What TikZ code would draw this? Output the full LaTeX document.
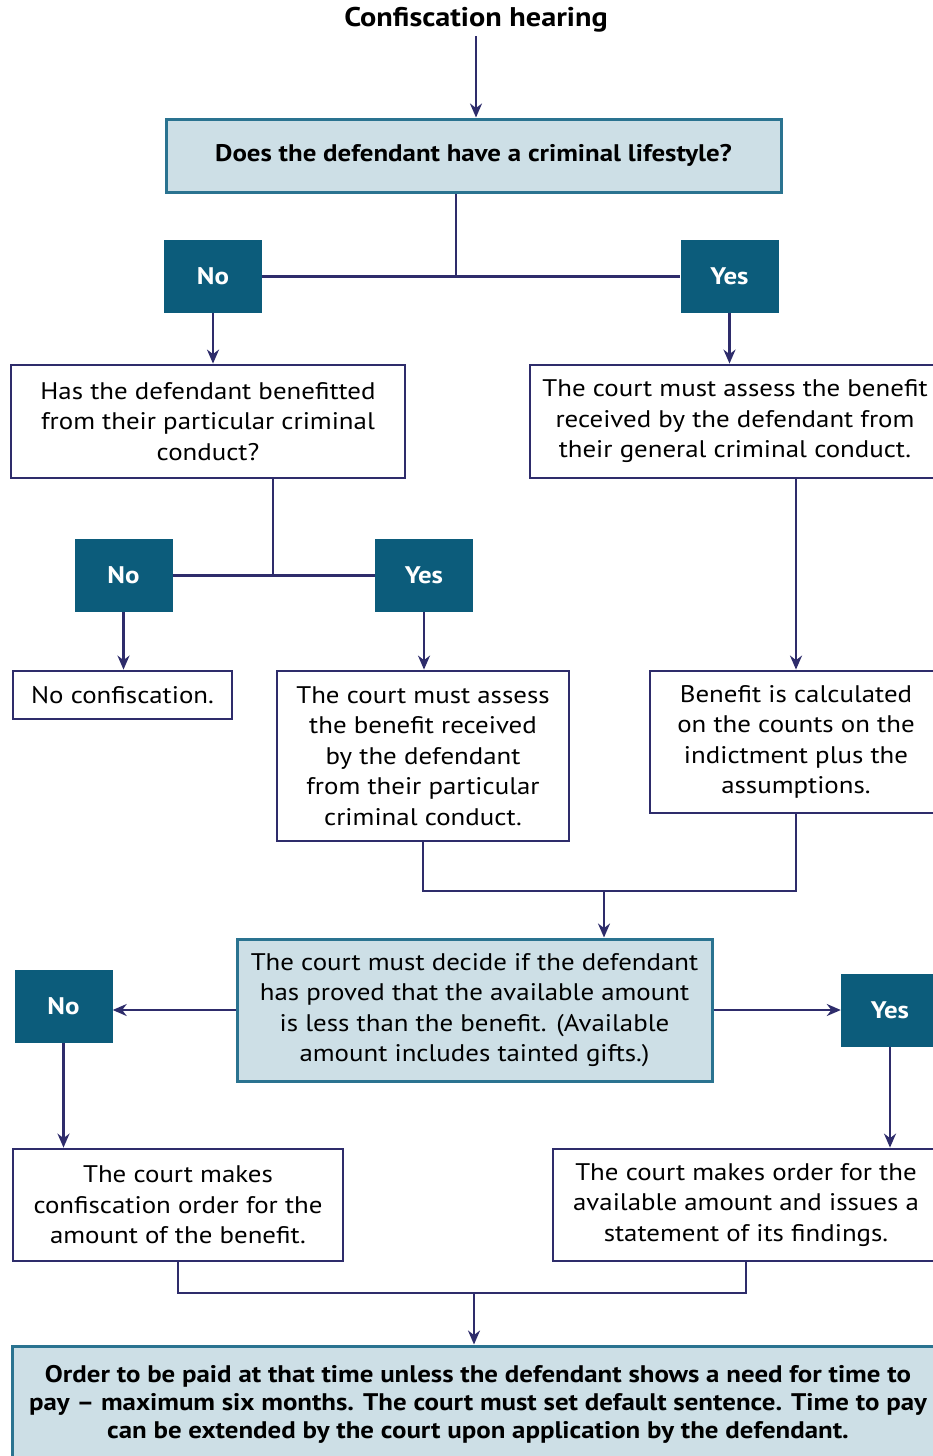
\documentclass[tikz,border=0pt]{standalone}
\usepackage{fontspec}
\setmainfont{PT Sans}[FakeStretch=1.12]
\usetikzlibrary{arrows.meta}
\definecolor{lightbox}{HTML}{CDDFE6}
\definecolor{tealline}{HTML}{2A7390}
\definecolor{darkbox}{HTML}{0C5C7B}
\definecolor{navy}{HTML}{2E2C6B}
\begin{document}
\begin{tikzpicture}[x=1pt,y=-1pt,
  conn/.style={draw=navy,line width=2.8pt},
  arr/.style={conn,-{Stealth[length=14pt,width=12pt]}},
  qbox/.style={draw=tealline,fill=lightbox,line width=3pt,align=center,inner sep=0pt,font=\fontsize{24}{28}\selectfont\bfseries},
  tbox/.style={draw=navy,fill=white,line width=2.8pt,align=center,inner sep=0pt,font=\fontsize{24}{30.5}\selectfont},
  ans/.style={fill=darkbox,text=white,minimum width=98pt,minimum height=73pt,inner sep=0pt,font=\fontsize{24}{26}\selectfont\bfseries}]
\useasboundingbox (0,0) rectangle (933,1456);
\clip (0,0) rectangle (933,1456);

% top
\node (title) at (476,20) {\fontsize{27}{30}\selectfont\bfseries Confiscation hearing};
\node[qbox,minimum width=615pt,minimum height=73pt] (q1) at (473.5,155.5) {Does the defendant have a criminal lifestyle?};
\node[ans] (no1) at (213,276.5) {No};
\node[ans] (yes1) at (729.5,276.5) {Yes};

% second level
\node[tbox,minimum width=394pt,minimum height=113pt] (b2) at (208,421.5) {Has the defendant benefitted\\from their particular criminal\\conduct?};
\node[tbox,minimum width=410pt,minimum height=113pt] (b3) at (735,421.5) {The court must assess the benefit\\received by the defendant from\\their general criminal conduct.};
\node[ans] (no2) at (123.5,575.5) {No};
\node[ans] (yes2) at (424,575.5) {Yes};

% third level
\node[tbox,minimum width=219pt,minimum height=48pt] (b4) at (122.5,695) {No confiscation.};
\node[tbox,minimum width=292pt,minimum height=170pt] (b5) at (423,756) {The court must assess\\the benefit received\\by the defendant\\from their particular\\criminal conduct.};
\node[tbox,minimum width=292pt,minimum height=142pt] (b6) at (796,742) {Benefit is calculated\\on the counts on the\\indictment plus the\\assumptions.};

% available amount
\node[qbox,font=\fontsize{24}{30.5}\selectfont,minimum width=475pt,minimum height=142pt] (q2) at (474.5,1010) {The court must decide if the defendant\\has proved that the available amount\\is less than the benefit. (Available\\amount includes tainted gifts.)};
\node[ans] (no3) at (63.5,1006.5) {No};
\node[ans] (yes3) at (890,1010) {Yes};
\node[tbox,minimum width=330pt,minimum height=112pt] (b8) at (178,1205) {The court makes\\confiscation order for the\\amount of the benefit.};
\node[tbox,minimum width=386pt,minimum height=112pt] (b9) at (746,1205) {The court makes order for the\\available amount and issues a\\statement of its findings.};
\node[qbox,minimum width=932pt,minimum height=116pt] (q3) at (478,1404) {Order to be paid at that time unless the defendant shows a need for time to\\pay -- maximum six months. The court must set default sentence. Time to pay\\can be extended by the court upon application by the defendant.};

% connectors
\coordinate (j1) at (456,276.5);
\coordinate (j2) at (273,575.5);
\coordinate (m1) at (604,891);
\coordinate (m2) at (474,1293);
\draw[arr] (title.south) -- (title.south |- q1.north);
\draw[conn] (q1.south -| j1) -- (j1);
\draw[conn] (no1.east) -- (yes1.west);
\draw[arr] (no1.south) -- (no1.south |- b2.north);
\draw[arr] (yes1.south) -- (yes1.south |- b3.north);
\draw[conn] (b2.south -| j2) -- (j2);
\draw[conn] (no2.east) -- (yes2.west);
\draw[arr] (no2.south) -- (no2.south |- b4.north);
\draw[arr] (yes2.south) -- (yes2.south |- b5.north);
\draw[arr] (b3.south -| b6.north) -- (b6.north);
\draw[conn] (b5.south) |- (m1) -| (b6.south);
\draw[arr] (m1) -- (m1 |- q2.north);
\draw[arr] (q2.west) -- (no3.east |- q2.west);
\draw[arr] (q2.east) -- (yes3.west |- q2.east);
\draw[arr] (no3.south) -- (no3.south |- b8.north);
\draw[arr] (yes3.south) -- (yes3.south |- b9.north);
\draw[conn] (b8.south) |- (m2) -| (b9.south);
\draw[arr] (m2) -- (m2 |- q3.north);
\end{tikzpicture}
\end{document}
